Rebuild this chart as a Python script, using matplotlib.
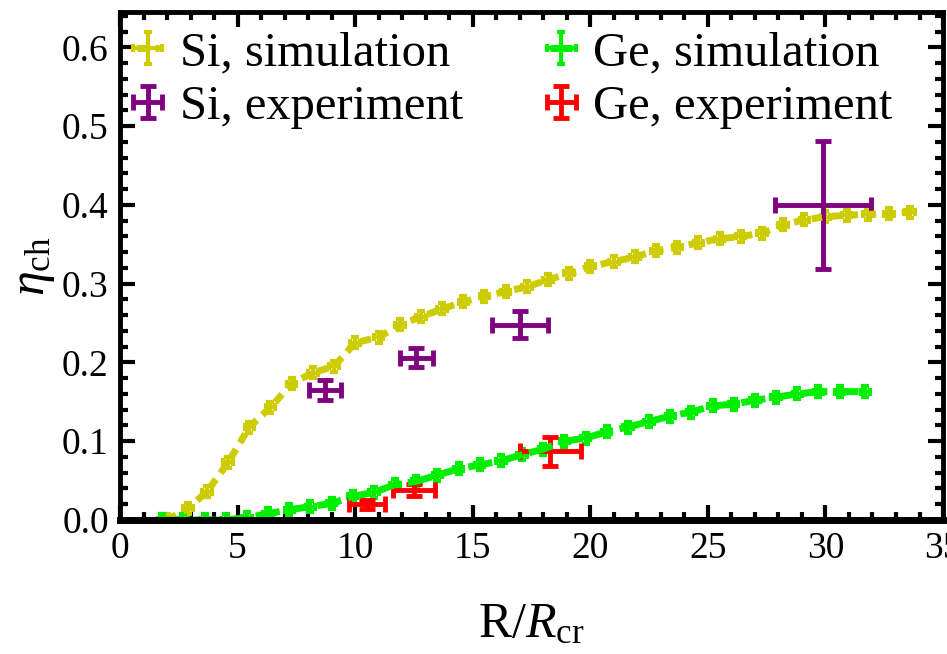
import matplotlib
matplotlib.use("Agg")
import matplotlib.pyplot as plt
from matplotlib.ticker import MultipleLocator
from matplotlib.legend_handler import HandlerErrorbar

# Si simulation
si_sim_x = [2.0, 2.9, 3.7, 4.6, 5.5, 6.4, 7.3, 8.2, 9.1, 10.0, 11.0, 11.9, 12.8, 13.7,
            14.6, 15.5, 16.4, 17.3, 18.2, 19.1, 20.0, 21.0, 21.9, 22.8, 23.7, 24.6,
            25.5, 26.4, 27.3, 28.2, 29.1, 30.0, 30.9, 31.8, 32.7, 33.6]
si_sim_y = [0.0, 0.015, 0.036, 0.073, 0.118, 0.143, 0.173, 0.187, 0.195, 0.225, 0.232,
            0.248, 0.258, 0.268, 0.277, 0.284, 0.29, 0.296, 0.305, 0.313, 0.322, 0.328,
            0.334, 0.342, 0.346, 0.352, 0.357, 0.36, 0.364, 0.375, 0.381, 0.385, 0.387,
            0.388, 0.389, 0.391]

# Ge simulation
ge_sim_x = [1.8, 2.7, 3.6, 4.5, 5.4, 6.3, 7.2, 8.1, 9.0, 9.9, 10.8, 11.7, 12.6, 13.5,
            14.4, 15.3, 16.2, 17.1, 18.0, 18.9, 19.8, 20.7, 21.6, 22.5, 23.4, 24.3,
            25.2, 26.1, 27.0, 27.9, 28.8, 29.7, 30.6, 31.7]
ge_sim_y = [0.0, 0.0, 0.0, 0.0, 0.003, 0.008, 0.013, 0.017, 0.021, 0.03, 0.035, 0.045,
            0.049, 0.057, 0.065, 0.07, 0.075, 0.083, 0.09, 0.1, 0.104, 0.112, 0.118,
            0.125, 0.132, 0.137, 0.145, 0.147, 0.152, 0.156, 0.16, 0.163, 0.163, 0.163]
sim_xerr = 0.2
sim_yerr = 0.007

# Si experiment
si_exp_x = [8.7, 12.6, 17.0, 29.9]
si_exp_y = [0.165, 0.206, 0.248, 0.40]
si_exp_xerr = [0.68, 0.7, 1.2, 2.05]
si_exp_yerr = [0.013, 0.012, 0.017, 0.081]

# Ge experiment
ge_exp_x = [10.5, 12.5, 18.3]
ge_exp_y = [0.02, 0.038, 0.087]
ge_exp_xerr = [0.75, 0.9, 1.3]
ge_exp_yerr = [0.006, 0.008, 0.019]

plt.rcParams['font.family'] = ['Liberation Serif', 'DejaVu Serif']
plt.rcParams['mathtext.fontset'] = 'custom'
plt.rcParams['mathtext.rm'] = 'Liberation Serif'
plt.rcParams['mathtext.it'] = 'Liberation Serif:italic'

fig = plt.figure(figsize=(9.47, 6.54), dpi=100)
ax = fig.add_axes([0.1267, 0.2049, 0.8691, 0.7768])

si_col = '#cccc00'
ge_col = '#00ee00'

h1 = ax.errorbar(si_sim_x, si_sim_y, xerr=sim_xerr, yerr=sim_yerr, color=si_col,
                 ls=(0, (1.5, 1.1)), lw=5, elinewidth=3, capsize=3, capthick=3,
                 label='Si, simulation')
h3 = ax.errorbar(ge_sim_x, ge_sim_y, xerr=sim_xerr, yerr=sim_yerr, color=ge_col,
                 ls=(0, (3.5, 1.0)), lw=5, elinewidth=3, capsize=3, capthick=3,
                 label='Ge, simulation')
h2 = ax.errorbar(si_exp_x, si_exp_y, xerr=si_exp_xerr, yerr=si_exp_yerr, color='#800080',
                 ls='none', elinewidth=3.5, capsize=6, capthick=3.5, label='Si, experiment')
h4 = ax.errorbar(ge_exp_x, ge_exp_y, xerr=ge_exp_xerr, yerr=ge_exp_yerr, color='#ff0000',
                 ls='none', elinewidth=3.5, capsize=6, capthick=3.5, label='Ge, experiment')

ax.set_xlim(0, 35)
ax.set_ylim(0, 0.645)
ax.xaxis.set_major_locator(MultipleLocator(5))
ax.xaxis.set_minor_locator(MultipleLocator(1))
ax.yaxis.set_major_locator(MultipleLocator(0.1))
ax.yaxis.set_minor_locator(MultipleLocator(0.02))
ax.yaxis.set_major_formatter(matplotlib.ticker.FormatStrFormatter('%.1f'))
ax.tick_params(which='both', direction='in', top=True, right=True, labelsize=27, width=3)
ax.tick_params(which='major', length=11, pad=8)
ax.tick_params(which='minor', length=6)
for s in ax.spines.values():
    s.set_linewidth(3.5)
ax.spines['bottom'].set_linewidth(5)

ax.set_xlabel(r'R/$R_{\mathrm{cr}}$', fontsize=36, labelpad=26)
ax.set_ylabel(r'$\eta_{\mathrm{ch}}$', fontsize=36, labelpad=4)

ax.legend(handles=[h1, h2, h3, h4], ncol=2, loc='upper left', frameon=False,
          fontsize=35, bbox_to_anchor=(-0.003, 1.0), borderaxespad=0,
          handlelength=0.45, handletextpad=0.43, columnspacing=1.8, labelspacing=0.2,
          handler_map={type(h1): HandlerErrorbar(xerr_size=0.3, yerr_size=0.33)})

fig.savefig('out.png', dpi=100)
